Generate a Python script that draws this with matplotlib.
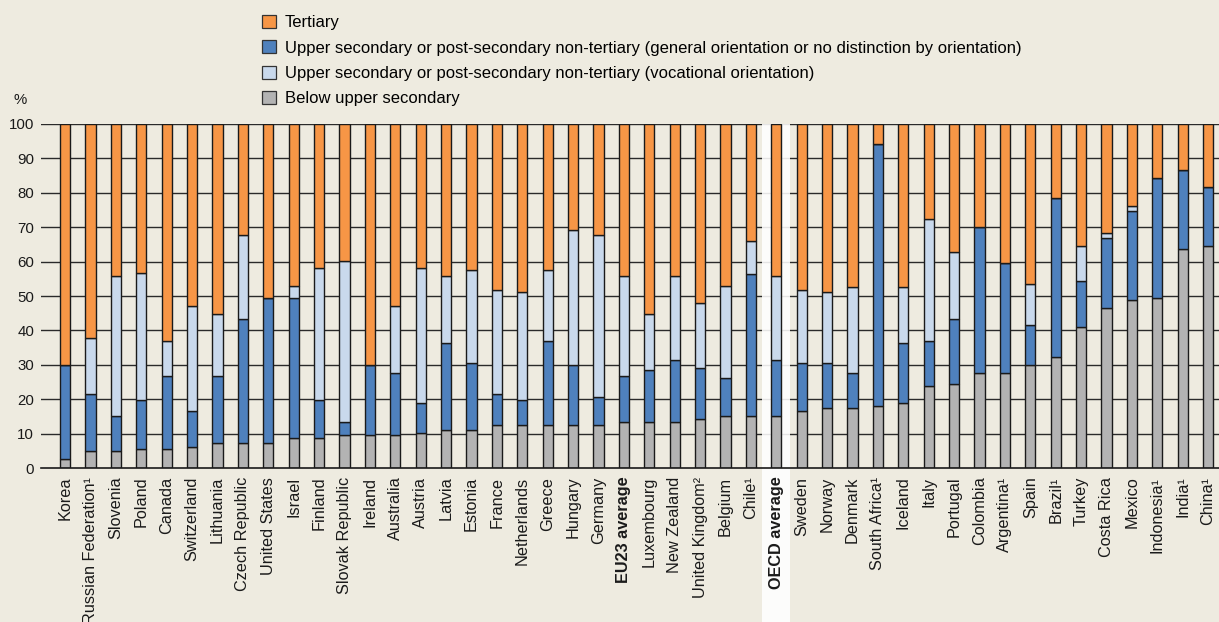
import matplotlib
matplotlib.use("Agg")
import matplotlib.pyplot as plt
from matplotlib.patches import Patch, Rectangle
from matplotlib.transforms import blended_transform_factory
import numpy as np

plt.rcParams['font.family'] = ['Liberation Sans', 'DejaVu Sans']

countries = ["Korea", "Russian Federation¹", "Slovenia", "Poland", "Canada", "Switzerland",
             "Lithuania", "Czech Republic", "United States", "Israel", "Finland",
             "Slovak Republic", "Ireland", "Australia", "Austria", "Latvia", "Estonia",
             "France", "Netherlands", "Greece", "Hungary", "Germany", "EU23 average",
             "Luxembourg", "New Zealand", "United Kingdom²", "Belgium", "Chile¹",
             "OECD average", "Sweden", "Norway", "Denmark", "South Africa¹", "Iceland",
             "Italy", "Portugal", "Colombia", "Argentina¹", "Spain", "Brazil¹", "Turkey",
             "Costa Rica", "Mexico", "Indonesia¹", "India¹", "China¹"]

below = [2.6, 4.9, 4.9, 5.5, 5.5, 6.3, 7.3, 7.3, 7.3, 8.7, 8.7, 9.6, 9.6, 9.6, 10.2,
         11.1, 11.1, 12.6, 12.6, 12.6, 12.6, 12.6, 13.3, 13.3, 13.3, 14.2, 15.1, 15.1,
         15.1, 16.5, 17.4, 17.4, 18.2, 18.9, 23.8, 24.5, 27.7, 27.7, 29.9, 32.2, 40.9,
         46.5, 48.7, 49.5, 63.5, 64.4]
general = [27.3, 16.6, 10.3, 14.2, 21.3, 10.2, 19.5, 36.0, 42.2, 40.8, 11.0, 3.7, 20.3,
           18.1, 8.7, 25.2, 19.6, 8.9, 7.1, 24.4, 17.4, 8.0, 13.5, 15.1, 18.1, 14.9,
           11.0, 41.4, 16.3, 14.2, 13.3, 10.3, 75.9, 17.4, 13.2, 18.7, 42.2, 32.0, 11.7,
           46.3, 13.4, 20.2, 25.9, 34.6, 23.0, 17.1]
vocational = [0.0, 16.2, 40.6, 36.9, 10.2, 30.7, 18.1, 24.3, 0.0, 3.3, 38.4, 47.0, 0.0,
              19.5, 39.2, 19.5, 26.7, 30.3, 31.5, 20.4, 39.1, 47.0, 29.0, 16.5, 24.4,
              18.9, 26.7, 9.5, 24.4, 21.1, 20.4, 25.0, 0.0, 16.4, 35.3, 19.6, 0.0, 0.0,
              11.9, 0.0, 10.1, 1.7, 1.6, 0.0, 0.0, 0.0]
tertiary = [70.1, 62.3, 44.2, 43.4, 63.0, 52.8, 55.1, 32.4, 50.5, 47.2, 41.9, 39.7, 70.1,
            52.8, 41.9, 44.2, 42.6, 48.2, 48.8, 42.6, 30.9, 32.4, 44.2, 55.1, 44.2, 52.0,
            47.2, 34.0, 44.2, 48.2, 48.9, 47.3, 5.9, 47.3, 27.7, 37.2, 30.1, 40.3, 46.5,
            21.5, 35.6, 31.6, 23.8, 15.9, 13.5, 18.5]

series_labels = ["Tertiary",
                 "Upper secondary or post-secondary non-tertiary (general orientation or no distinction by orientation)",
                 "Upper secondary or post-secondary non-tertiary (vocational orientation)",
                 "Below upper secondary"]
y_ticks = [0, 10, 20, 30, 40, 50, 60, 70, 80, 90, 100]
highlight = ["OECD average"]
bold_labels = ["EU23 average", "OECD average"]

c_ter = "#F79646"
c_gen = "#4F81BD"
c_voc = "#C9D9EC"
c_below = "#B3B3B3"
bg = "#EEEBE0"
edge = "#1a1a1a"

W, H = 1219, 622
fig = plt.figure(figsize=(W / 100, H / 100), dpi=100, facecolor=bg)
ax = fig.add_axes([41 / W, 1 - 468.3 / H, 1 - 41 / W, (468.3 - 123.7) / H])
ax.set_facecolor(bg)

x = np.arange(len(countries))
b = np.array(below)
g = np.array(general)
v = np.array(vocational)
t = np.array(tertiary)
bw = 0.40
kw = dict(width=bw, edgecolor=edge, linewidth=1.0, zorder=3)
ax.bar(x, b, color=c_below, **kw)
ax.bar(x, g, bottom=b, color=c_gen, **kw)
ax.bar(x, v, bottom=b + g, color=c_voc, **kw)
ax.bar(x, t, bottom=b + g + v, color=c_ter, **kw)

ax.set_xlim(-0.95, len(countries) - 1 + 0.43)
ax.set_ylim(0, 100)
ax.set_yticks(y_ticks)
for yv in y_ticks[1:]:
    ax.axhline(yv, color="#2a2a2a", linewidth=1.0, zorder=0.5)

# white highlight band for OECD average
trans = blended_transform_factory(ax.transData, ax.transAxes)
for name in highlight:
    i = countries.index(name)
    ax.add_patch(Rectangle((i - 0.58, -0.46), 1.1, 1.46, transform=trans,
                           facecolor="white", edgecolor="none", alpha=0.88,
                           zorder=1, clip_on=False))

for s in ["top", "right", "left"]:
    ax.spines[s].set_visible(False)
ax.spines["bottom"].set_color("#1a1a1a")
ax.spines["bottom"].set_linewidth(1.2)
ax.spines["bottom"].set_zorder(5)

ax.tick_params(axis="y", length=0, pad=5, labelsize=10.8, labelcolor="#1a1a1a")
ax.tick_params(axis="x", length=0, pad=6, labelsize=11.7, labelcolor="#1a1a1a")
ax.set_xticks(x)
ax.set_xticklabels(countries, rotation=90, va="top", ha="center")
for lab in ax.get_xticklabels():
    if lab.get_text() in bold_labels:
        lab.set_fontweight("bold")

fig.text(20 / W, 1 - 100 / H, "%", ha="center", va="center", fontsize=10.8, color="#1a1a1a")

handles = [Patch(facecolor=c, edgecolor="#333333", linewidth=0.9)
           for c in [c_ter, c_gen, c_voc, c_below]]
fig.legend(handles, series_labels, loc="upper left", bbox_to_anchor=(262 / W, 1 - 15 / H),
           frameon=False, fontsize=12, handlelength=0.82, handleheight=0.82,
           handletextpad=0.55, labelspacing=0.6, borderpad=0, borderaxespad=0)

fig.savefig("out.png", dpi=100, facecolor=bg)
